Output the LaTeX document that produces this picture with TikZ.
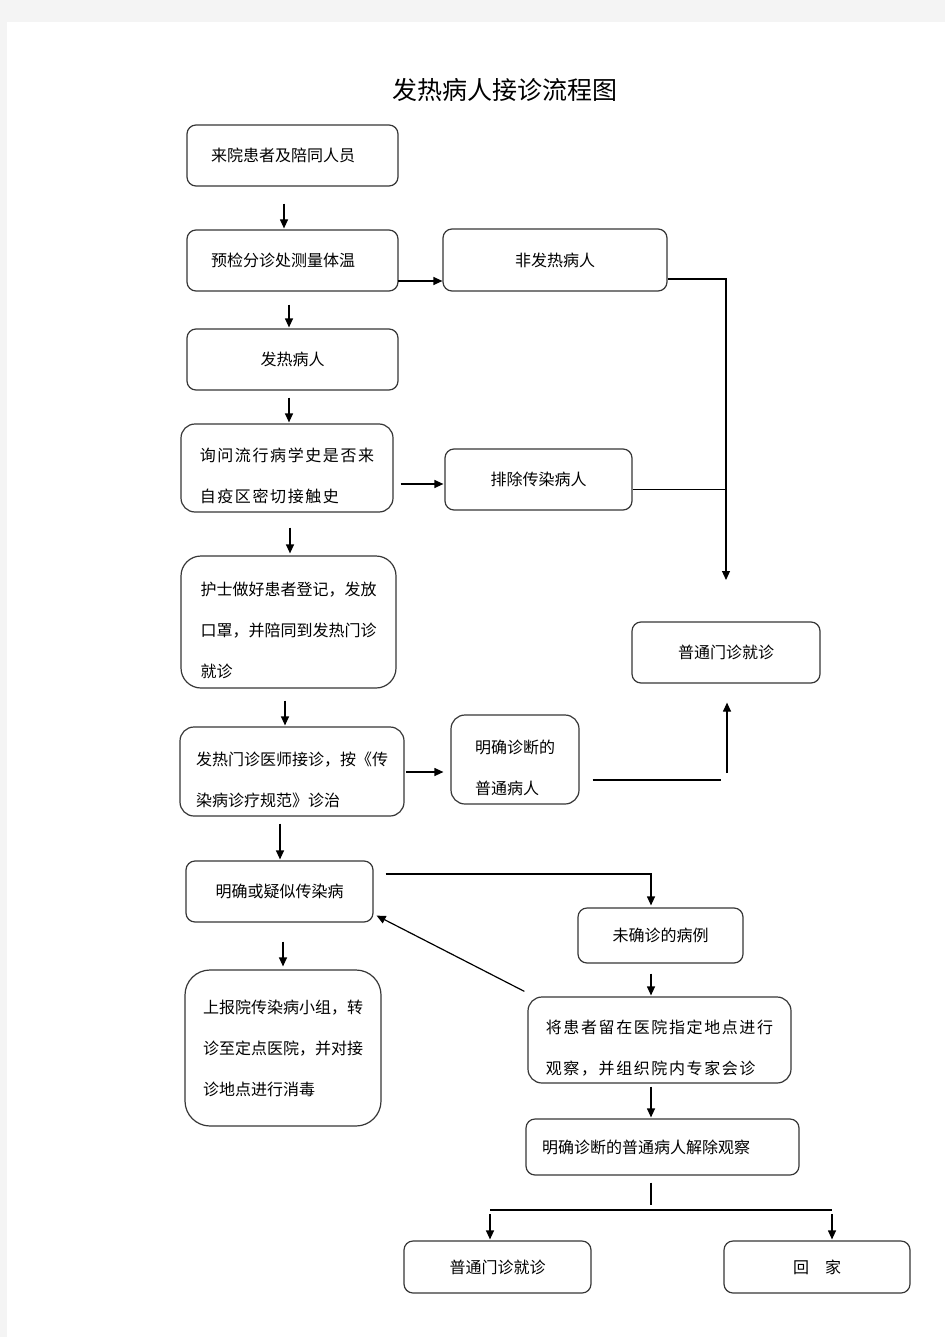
\documentclass[tikz,border=0pt]{standalone}
\usepackage{fontspec}
\newfontfamily\cjk{Noto Sans CJK SC}
\newfontfamily\cjkwide[LetterSpace=10]{Noto Sans CJK SC}
\usetikzlibrary{arrows.meta,calc}
\definecolor{pagebg}{RGB}{244,244,244}
\definecolor{edge}{RGB}{55,55,55}
\newcommand\bfnt{\cjk\fontsize{16}{41}\selectfont}
\newcommand\bfntw{\cjkwide\fontsize{16}{41}\selectfont}
\newcommand\dn{\rule{0pt}{30pt}}
\begin{document}
\begin{tikzpicture}[x=1pt,y=-1pt,
  box/.style={draw=edge, line width=1.2pt, rounded corners=9pt, inner sep=0pt, font=\bfnt, align=center},
  arr/.style={-{Triangle[length=9pt,width=8pt]}, line width=1.2pt, draw=black},
  ln/.style={line width=1.2pt, draw=black}]
\useasboundingbox (0,0) rectangle (945,1337);
\fill[pagebg] (0,0) rectangle (945,1337);
\fill[white] (7,22) rectangle (945,1337);

\node (title) at (505,90) {\cjk\fontsize{25}{28}\selectfont 发热病人接诊流程图};

\node[box, text width=163pt, inner xsep=24pt, minimum height=61pt, align=left] (b1) at (292.5,155.5) {来院患者及陪同人员};
\node[box, text width=163pt, inner xsep=24pt, minimum height=61pt, align=left] (b2) at (292.5,260.5) {预检分诊处测量体温};
\node[box, minimum width=224pt, minimum height=62pt] (n1) at (555,260) {非发热病人};
\node[box, minimum width=211pt, minimum height=61pt] (b3) at (292.5,359.5) {发热病人};
\node[box, rounded corners=14pt, minimum width=212pt, minimum height=88pt, align=left, font=\bfntw] (b4) at (287,468) {\dn 询问流行病学史是否来\\自疫区密切接触史};
\node[box, minimum width=187pt, minimum height=61pt] (e1) at (538.5,479.5) {排除传染病人};
\node[box, rounded corners=20pt, minimum width=215pt, minimum height=132pt, align=left] (b5) at (288.5,622) {\dn 护士做好患者登记，发放\\口罩，并陪同到发热门诊\\就诊};
\node[box, minimum width=188pt, minimum height=61pt] (g1) at (726,652.5) {普通门诊就诊};
\node[box, rounded corners=14pt, minimum width=224pt, minimum height=89pt, align=left] (b6) at (292,771.5) {\dn 发热门诊医师接诊，按《传\\染病诊疗规范》诊治};
\node[box, rounded corners=14pt, minimum width=128pt, minimum height=89pt, align=left] (d1) at (515,759.5) {\dn 明确诊断的\\普通病人};
\node[box, minimum width=187pt, minimum height=61pt] (b7) at (279.5,891.5) {明确或疑似传染病};
\node[box, minimum width=165pt, minimum height=55pt] (u1) at (660.5,935.5) {未确诊的病例};
\node[box, rounded corners=25pt, minimum width=196pt, minimum height=156pt, align=left] (b8) at (283,1048) {上报院传染病小组，转\\诊至定点医院，并对接\\诊地点进行消毒};
\node[box, rounded corners=14pt, minimum width=263pt, minimum height=86pt, align=left, font=\bfntw] (o1) at (659.5,1040) {\dn 将患者留在医院指定地点进行\\观察，并组织院内专家会诊};
\node[box, text width=241pt, inner xsep=16pt, minimum height=56pt, align=left] (r1) at (662.5,1147) {明确诊断的普通病人解除观察};
\node[box, minimum width=187pt, minimum height=52pt] (g2) at (497.5,1267) {普通门诊就诊};
\node[box, minimum width=186pt, minimum height=52pt] (h1) at (817,1267) {回\quad 家};

% connectors
\draw[arr] ($(b1.south)+(-8.5,17)$) -- ($(b2.north)+(-8.5,-1)$);
\draw[arr] ($(b2.east)+(-1,20.5)$) -- ($(n1.west)+(0,21)$);
\coordinate (j2) at (726,580);
\coordinate (j3) at (726,489.5);
\draw[arr] ($(n1.east)+(0,19)$) -| (j2);
\draw[ln] ($(e1.east)+(0,10)$) -- (j3);
\draw[arr] ($(b2.south)+(-3.5,13)$) -- ($(b3.north)+(-3.5,-1)$);
\draw[arr] ($(b3.south)+(-3.5,7)$) -- ($(b4.north)+(2,-1)$);
\draw[arr] ($(b4.east)+(7,16)$) -- ($(e1.west)+(-1,4.5)$);
\draw[arr] ($(b4.south)+(3,15)$) -- ($(b5.north)+(1.5,-2)$);
\draw[arr] ($(b5.south)+(-3.5,12)$) -- ($(b6.north)+(-7,-1)$);
\draw[arr] ($(b6.east)+(1.5,0.5)$) -- ($(d1.west)+(-7,12.5)$);
\coordinate (c1) at (721,780);
\draw[ln] ($(d1.east)+(13,20.5)$) -- (c1);
\coordinate (c2) at (727,773);
\draw[arr] (c2) -- ($(g1.south)+(1,19)$);
\draw[arr] ($(b6.south)+(-12,7)$) -- ($(b7.north)+(0.5,-1)$);
\draw[arr] ($(b7.east)+(12,-17.5)$) -| ($(u1.north)+(-9.5,-2)$);
\draw[arr] ($(o1.north west)+(-3,-5)$) -- ($(b7.south east)+(3,-7)$);
\draw[arr] ($(b7.south)+(3.5,19)$) -- ($(b8.north)+(0,-3)$);
\draw[arr] ($(u1.south)+(-9.5,10)$) -- ($(o1.north)+(-8.5,-1)$);
\draw[arr] ($(o1.south)+(-8.5,3)$) -- ($(r1.north)+(-11.5,-1)$);
\draw[ln] ($(r1.south)+(-11.5,7)$) -- ($(r1.south)+(-11.5,29)$);
\coordinate (hl) at (490,1210);
\coordinate (hr) at (832,1210);
\draw[ln] (hl) -- (hr);
\draw[arr] ($(hl)+(0,4)$) -- ($(g2.north)+(-7.5,-1)$);
\draw[arr] ($(hr)+(0,4)$) -- ($(h1.north)+(15,-1)$);
\end{tikzpicture}
\end{document}
